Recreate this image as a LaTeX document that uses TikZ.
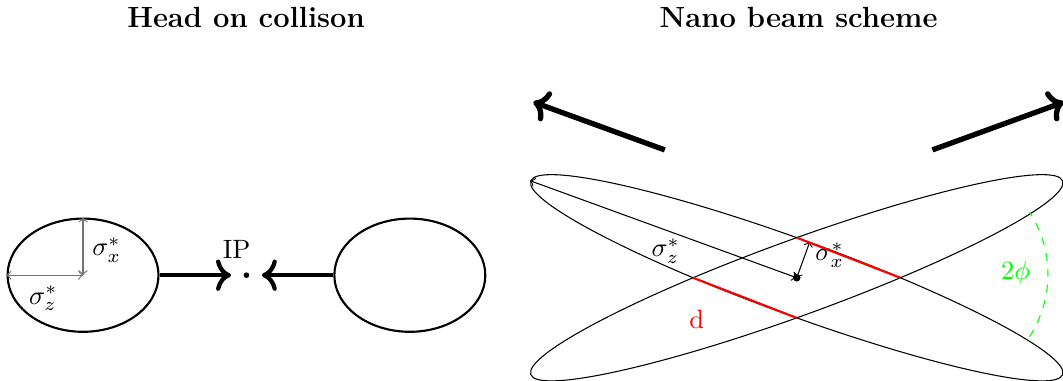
\documentclass[tikz,border=0pt]{standalone}
\usepackage{tikz}
\usetikzlibrary{shapes.geometric,arrows.meta}

\begin{document}
\begin{tikzpicture}[>=to,
  bunch/.style={draw, thick, ellipse, minimum width=2cm, minimum height=1.5cm, inner sep=0pt},
  flatbunch/.style={draw, ellipse, minimum width=7.5cm, minimum height=1cm, inner sep=0pt},
  beam/.style={-{To[scale=1.1]}, ultra thick},
  outbeam/.style={-{To[scale=0.95]}, line width=2pt},
  sizearrow/.style={<->, gray!90!black},
  title/.style={font=\fontsize{11}{13}\selectfont\bfseries}]
\useasboundingbox (0,0) rectangle (14.084,5.046);

\node (titleHead) [title] at (3.26,4.82) {Head on collison};
\node (titleNano) [title] at (10.58,4.82) {Nano beam scheme};

% head on collision
\node (bunchL) [bunch] at (1.1,1.4) {};
\node (bunchR) [bunch] at (5.43,1.4) {};
\node (ip) [circle, fill, inner sep=0pt, minimum size=0.075cm] at (3.265,1.4) {};
\node (ipLabel) at (3.135,1.744) {IP};
\draw[beam, shorten >=0.16cm] (bunchL) -- (ip);
\draw[beam, shorten >=0.16cm] (bunchR) -- (ip);
\draw[sizearrow] (bunchL.center) -- (bunchL.north);
\draw[sizearrow] (bunchL.center) -- (bunchL.west);
\node (sxL) at (1.413,1.735) {$\sigma_x^*$};
\node (szL) at (0.574,1.095) {$\sigma_z^*$};

% nano beam scheme
\coordinate (C) at (10.556,1.366);
\node (beamA) [flatbunch, rotate=-20] at (C) {};
\node (beamB) [flatbunch, rotate=20] at (C) {};
\node (dotC) [circle, fill, inner sep=0pt, minimum size=0.1cm] at (C) {};
\draw[<->] (beamA.center) -- (beamA.west);
\draw[<->] (beamA.center) -- (beamA.north);
\node (szN) at (8.821,1.722) {$\sigma_z^*$};
\node (sxN) at (10.993,1.669) {$\sigma_x^*$};

% overlap length
\coordinate (dW) at ([xshift=-1.373cm]C);
\coordinate (dE) at ([xshift=1.373cm]C);
\coordinate (dS) at ([yshift=-0.5315cm]C);
\coordinate (dN) at ([yshift=0.5315cm]C);
\draw[red, thick] (dW) -- (dS);
\draw[red, thick] (dN) -- (dE);
\node (dLabel) [red] at (9.232,0.808) {d};

% crossing angle
\draw[green, dashed] (13.64,0.584) arc (-33:33:1.517);
\node (phiLabel) [green] at (13.457,1.43) {$2\phi$};

% outgoing beams
\coordinate (outLs) at (8.808,3.060);
\coordinate (outLe) at (7.066,3.694);
\coordinate (outRs) at (12.354,3.060);
\coordinate (outRe) at (14.096,3.694);
\draw[outbeam] (outLs) -- (outLe);
\draw[outbeam] (outRs) -- (outRe);
\end{tikzpicture}
\end{document}
